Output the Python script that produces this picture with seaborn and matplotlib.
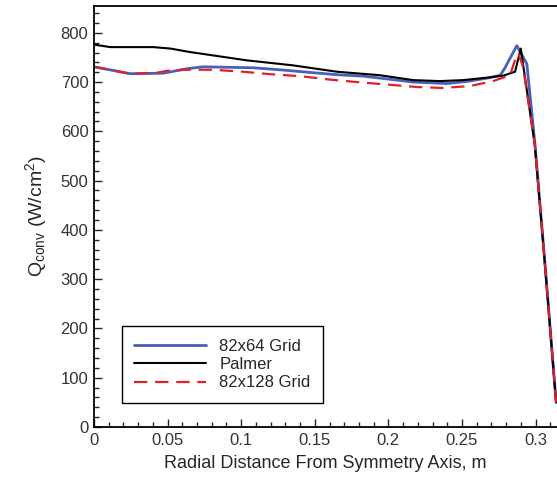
import matplotlib
matplotlib.use("Agg")
import matplotlib.pyplot as plt
import seaborn as sns
import pandas as pd
from matplotlib.ticker import MultipleLocator, FuncFormatter

# Convective heat flux along the radial coordinate
x_64 = [0, 0.0245, 0.047, 0.063, 0.074, 0.108, 0.126, 0.149, 0.165, 0.183, 0.217,
        0.240, 0.255, 0.269, 0.276, 0.279, 0.2872, 0.294, 0.2995, 0.3064, 0.3139]
q_64 = [731, 717, 718, 727, 731, 729, 725, 719, 715, 712, 700,
        697, 702, 709, 714, 728, 774, 737, 575, 330, 50]

x_palmer = [0, 0.011, 0.040, 0.052, 0.065, 0.072, 0.104, 0.135, 0.165, 0.194, 0.2167,
            0.235, 0.2507, 0.267, 0.278, 0.286, 0.2899, 0.2995, 0.3064, 0.3139]
q_palmer = [776, 771, 771, 768, 761, 758, 744, 734, 721, 714, 704,
            702, 704, 709, 713, 721, 768, 570, 325, 50]

x_128 = [0, 0.0245, 0.0428, 0.0496, 0.0618, 0.0808, 0.1012, 0.1196, 0.1399, 0.1603,
         0.1787, 0.1991, 0.2194, 0.2371, 0.2554, 0.2711, 0.2826, 0.2867, 0.2883,
         0.2914, 0.2995, 0.3064, 0.3139]
q_128 = [731, 717, 719, 723, 725, 725, 721, 716, 712, 705,
         700, 695, 690, 688, 692, 702, 714, 751, 758,
         731, 572, 328, 50]

labels = ["82x64 Grid", "Palmer", "82x128 Grid"]

sns.set_style("ticks")
plt.rcParams["font.family"] = ["Liberation Sans", "DejaVu Sans"]
plt.rcParams["mathtext.fontset"] = "custom"
plt.rcParams["mathtext.rm"] = "Liberation Sans"
plt.rcParams["mathtext.it"] = "Liberation Sans"

fig = plt.figure(figsize=(5.57, 4.82), dpi=100)
ax = fig.add_axes([94 / 557, 55 / 482, 1 - 94 / 557, (427 - 5.7) / 482])

df64 = pd.DataFrame({"x": x_64, "q": q_64})
dfp = pd.DataFrame({"x": x_palmer, "q": q_palmer})
df128 = pd.DataFrame({"x": x_128, "q": q_128})

sns.lineplot(data=df64, x="x", y="q", ax=ax, sort=False, color="#4a5fb8",
             linewidth=2.0, label=labels[0])
sns.lineplot(data=dfp, x="x", y="q", ax=ax, sort=False, color="black",
             linewidth=1.5, label=labels[1])
sns.lineplot(data=df128, x="x", y="q", ax=ax, sort=False, color="#e0202a",
             linewidth=1.6, linestyle=(0, (6, 3.5)), label=labels[2])

ax.set_xlim(0, 0.3145)
ax.set_ylim(0, 855)

ax.xaxis.set_major_locator(MultipleLocator(0.05))
ax.xaxis.set_minor_locator(MultipleLocator(0.01))
ax.yaxis.set_major_locator(MultipleLocator(100))
ax.yaxis.set_minor_locator(MultipleLocator(20))
ax.xaxis.set_major_formatter(FuncFormatter(lambda v, p: f"{v:g}"))

ax.tick_params(which="both", direction="in", top=False, right=False,
               labelsize=12, labelcolor="#333333", width=1.0)
ax.tick_params(which="major", length=6, pad=4)
ax.tick_params(which="minor", length=3.5)

for side in ["left", "bottom", "top"]:
    ax.spines[side].set_linewidth(1.3)
    ax.spines[side].set_color("black")
ax.spines["right"].set_visible(False)

ax.set_xlabel("Radial Distance From Symmetry Axis, m", fontsize=13, labelpad=5)
ax.set_ylabel(r"Q$_{\rm conv}$ (W/cm$^2$)", fontsize=14, labelpad=8)

leg = ax.legend(loc="lower left", bbox_to_anchor=(0.06, 0.057), fontsize=12,
                handlelength=4.3, handletextpad=0.8, labelspacing=0.2,
                borderpad=0.75, borderaxespad=0, fancybox=False, framealpha=1,
                edgecolor="black")
leg.get_frame().set_linewidth(1.0)

fig.savefig("out.png", dpi=100)
